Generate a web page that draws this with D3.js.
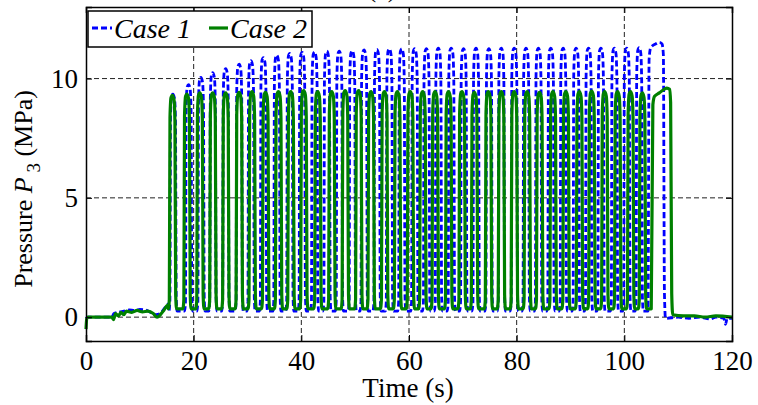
<!DOCTYPE html>
<html>
<head>
<meta charset="utf-8">
<script src="https://cdn.jsdelivr.net/npm/d3@7"></script>
<style>
  body { margin: 0; background: #fff; }
  svg text { font-family: "Liberation Serif", "Times New Roman", serif !important; }
</style>
</head>
<body>
<div id="chart"></div>
<script>
// tick labels
var xTicks = [0, 20, 40, 60, 80, 100, 120];
var yTicks = [0, 5, 10];
var seriesNames = ["Case 1", "Case 2"];

// Case 1 (blue dashed): peak time (s) and peak pressure (MPa) of each narrow pulse
var case1PeakTimes = [16.1, 19.0, 21.3, 23.5, 25.9, 28.4, 30.6, 32.9, 35.4, 37.8, 40.1, 42.4, 44.7, 47.0, 49.4, 51.6, 54.0, 56.3, 58.6, 61.0,
  63.2, 65.4, 67.8, 70.1, 72.4, 74.8, 77.1, 79.5, 81.7, 84.0, 86.3, 88.6, 91.0, 93.3, 95.6, 98.1, 100.4, 102.7];
var case1PeakValues = [9.35, 9.75, 10.05, 10.25, 10.42, 10.6, 10.75, 10.88, 10.98, 11.05, 11.1, 11.12, 11.15, 11.15, 11.17, 11.2, 11.22, 11.25, 11.25, 11.25,
  11.25, 11.28, 11.28, 11.25, 11.27, 11.25, 11.28, 11.28, 11.28, 11.27, 11.27, 11.27, 11.28, 11.28, 11.27, 11.27, 11.27, 11.3];
var case1Trough = 0.25;
var case1Start = [[0, -0.05], [0.3, 0.0], [4.8, 0.0], [5.2, 0.15], [6, 0.2], [7, 0.25], [8, 0.3], [9, 0.28], [10, 0.32], [11, 0.3],
  [12, 0.2], [13, 0.1], [13.8, 0.15], [14.5, 0.35], [15.3, 0.55]];
var case1Final = [[104.4, 0.25], [104.6, 10.8], [104.9, 11.3], [105.8, 11.45], [106.5, 11.52], [107.0, 11.45], [107.25, 11.0], [107.45, 1.0], [107.65, -0.05]];
var case1End = [[110, 0.0], [112, -0.05], [114, 0.0], [116, -0.08], [117, 0.0], [118.5, -0.05], [118.8, -0.3], [119.1, -0.05], [120, -0.05]];

// Case 2 (green solid)
var case2PeakTimes = [16.0, 18.7, 21.1, 23.5, 25.9, 28.4, 30.8, 33.3, 35.7, 38.0, 40.4, 43.0, 45.6, 48.1, 50.6, 52.9, 55.4, 57.8, 60.2,
  62.5, 64.8, 67.3, 69.8, 72.1, 74.7, 77.1, 79.5, 81.9, 84.2, 86.7, 89.1, 91.6, 93.9, 96.3, 98.7, 101.1, 103.3];
var case2PeakValues = [9.3, 9.35, 9.4, 9.4, 9.4, 9.42, 9.45, 9.42, 9.45, 9.45, 9.5, 9.45, 9.45, 9.5, 9.5, 9.45, 9.45, 9.45, 9.45,
  9.45, 9.45, 9.45, 9.45, 9.42, 9.45, 9.45, 9.45, 9.45, 9.42, 9.45, 9.45, 9.45, 9.48, 9.45, 9.45, 9.45, 9.4];
var case2Trough = 0.35;
var case2Start = [[0, -0.5], [0.15, -0.05], [0.4, 0.0], [4.8, 0.0], [5.1, -0.1], [5.5, 0.15], [6, 0.05], [6.5, 0.2], [7, 0.1], [7.5, 0.25],
  [8.5, 0.2], [9.5, 0.28], [10.5, 0.22], [11.5, 0.25], [12.5, 0.15], [13.2, 0.0], [13.8, 0.1], [14.5, 0.3], [15.2, 0.5]];
var case2Final = [[105.0, 0.35], [105.3, 8.9], [105.6, 9.25], [106.5, 9.4], [107.4, 9.55], [107.9, 9.6], [108.4, 9.55], [108.6, 9.0], [108.8, 1.0], [109.0, 0.1]];
var case2End = [[111, 0.05], [113, 0.05], [115, 0.0], [117, 0.05], [120, 0.0]];

// one pulse outline around its peak
function pulse(tp, v, low) {
  return [[tp - 0.7, low], [tp - 0.52, low + 0.4], [tp - 0.4, v * 0.9], [tp - 0.2, v * 0.99], [tp + 0.05, v],
    [tp + 0.35, v * 0.98], [tp + 0.52, v * 0.88], [tp + 0.66, low + 0.6], [tp + 0.82, low]];
}

function buildSeries(start, times, values, low, fin, end) {
  var pts = start.slice();
  times.forEach(function(t, i) { pts = pts.concat(pulse(t, values[i], low)); });
  return pts.concat(fin, end);
}

var case1 = buildSeries(case1Start, case1PeakTimes, case1PeakValues, case1Trough, case1Final, case1End);
var case2 = buildSeries(case2Start, case2PeakTimes, case2PeakValues, case2Trough, case2Final, case2End);

var W = 758, H = 405;
var margin = { left: 86, right: 26, top: 7, bottom: 64 };
var serif = "'Liberation Serif', 'Times New Roman', serif";

var svg = d3.select("#chart").append("svg")
  .attr("width", W).attr("height", H)
  .style("font-family", serif);

var x = d3.scaleLinear().domain([0, 120]).range([margin.left, W - margin.right]);
var y = d3.scaleLinear().domain([-1, 13]).range([H - margin.bottom, margin.top]);

// title cut off at the top
svg.append("text").attr("x", 382).attr("y", -3).attr("text-anchor", "middle")
  .style("font-size", "26px").text("(a)");

// grid
var grid = svg.append("g").attr("stroke", "#222").attr("stroke-width", 1).attr("stroke-dasharray", "5,3");
grid.selectAll(".gx").data(xTicks.slice(1, -1)).enter().append("line")
  .attr("x1", d => x(d)).attr("x2", d => x(d)).attr("y1", y.range()[0]).attr("y2", y.range()[1]);
grid.selectAll(".gy").data(yTicks).enter().append("line")
  .attr("y1", d => y(d)).attr("y2", d => y(d)).attr("x1", x.range()[0]).attr("x2", x.range()[1]);

// lines
var line = d3.line().x(d => x(d[0])).y(d => y(d[1])).curve(d3.curveMonotoneX);

svg.append("path").datum(case1)
  .attr("d", line).attr("fill", "none").attr("stroke", "#0000ff")
  .attr("stroke-width", 2.8).attr("stroke-dasharray", "6,3");
svg.append("path").datum(case2)
  .attr("d", line).attr("fill", "none").attr("stroke", "#008000")
  .attr("stroke-width", 3.2).attr("stroke-linejoin", "round");

// axes (inward ticks)
svg.append("g").attr("transform", "translate(0," + y(-1) + ")")
  .call(d3.axisBottom(x).tickValues(xTicks).tickSize(-6).tickPadding(10));
svg.append("g").attr("transform", "translate(" + x(0) + ",0)")
  .call(d3.axisLeft(y).tickValues(yTicks).tickSize(-6).tickPadding(8));
svg.append("g").attr("transform", "translate(0," + y(13) + ")")
  .call(d3.axisTop(x).tickValues(xTicks).tickSize(-6).tickFormat(""));
svg.append("g").attr("transform", "translate(" + x(120) + ",0)")
  .call(d3.axisRight(y).tickValues(yTicks).tickSize(-6).tickFormat(""));

svg.selectAll(".domain").attr("stroke", "#000").attr("stroke-width", 1.5);
svg.selectAll(".tick line").attr("stroke", "#000");
svg.selectAll(".tick text").style("font-family", serif).style("font-size", "27px").attr("fill", "#000");

// axis titles
svg.append("text").attr("x", 408).attr("y", 397).attr("text-anchor", "middle")
  .style("font-size", "27px").text("Time (s)");

var yl = svg.append("text").attr("transform", "translate(32,189) rotate(-90)")
  .attr("text-anchor", "middle").style("font-size", "26px");
yl.append("tspan").text("Pressure ");
yl.append("tspan").style("font-style", "italic").text("P");
yl.append("tspan").style("font-size", "19px").attr("dy", 8).text(" 3");
yl.append("tspan").attr("dy", -8).text(" (MPa)");

// legend
var lg = svg.append("g");
lg.append("rect").attr("x", 88).attr("y", 11).attr("width", 224).attr("height", 36)
  .attr("fill", "#fff").attr("stroke", "#000").attr("stroke-width", 1.5);
lg.append("line").attr("x1", 92).attr("x2", 112).attr("y1", 28).attr("y2", 28)
  .attr("stroke", "#0000ff").attr("stroke-width", 2.8).attr("stroke-dasharray", "6,3");
lg.append("text").attr("x", 114).attr("y", 38).style("font-size", "28px").style("font-style", "italic").text(seriesNames[0]);
lg.append("line").attr("x1", 209).attr("x2", 228).attr("y1", 28).attr("y2", 28)
  .attr("stroke", "#008000").attr("stroke-width", 3.2);
lg.append("text").attr("x", 230).attr("y", 38).style("font-size", "28px").style("font-style", "italic").text(seriesNames[1]);
</script>
</body>
</html>
